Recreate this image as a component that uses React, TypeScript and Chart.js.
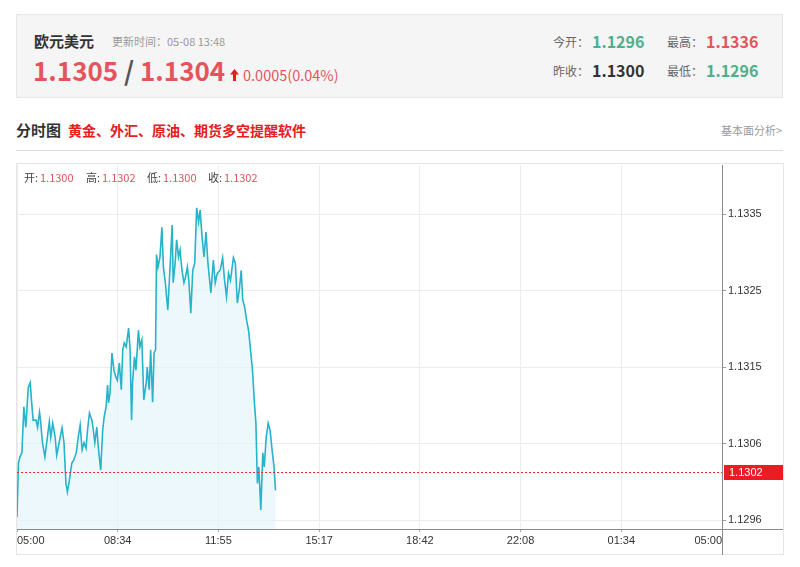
import React, { useEffect, useRef } from 'react';
import { Chart, registerables } from 'chart.js';

Chart.register(...registerables);

// minutes after 05:00
const timeMinutes = [
  0, 3, 6, 10, 14, 18, 23, 27, 30, 33,
  39, 42, 46, 48, 52, 57, 62, 66, 69, 73,
  78, 81, 86, 92, 96, 100, 103, 107, 112, 116,
  121, 125, 129, 133, 137, 141, 144, 148, 153, 156,
  159, 163, 166, 171, 175, 178, 182, 185, 187, 190,
  194, 198, 202, 205, 209, 213, 216, 219, 223, 228,
  231, 234, 236, 240, 243, 248, 251, 255, 259, 264,
  266, 270, 273, 277, 280, 283, 285, 288, 292, 296,
  299, 303, 308, 313, 317, 319, 323, 326, 330, 333,
  337, 341, 344, 348, 351, 355, 359, 363, 367, 371,
  374, 378, 382, 386, 390, 396, 401, 405, 409, 415,
  420, 424, 428, 432, 436, 442, 446, 450, 454, 458,
  461, 465, 469, 473, 477, 481, 485, 488, 491, 494,
  498, 502, 505, 509, 513, 517, 521, 525, 528,
];

const prices = [
  1.12962, 1.13031, 1.13039, 1.13044, 1.13103, 1.13077, 1.13128, 1.13134, 1.13108, 1.13086,
  1.13086, 1.13077, 1.13096, 1.13086, 1.13057, 1.13039, 1.13064, 1.13084, 1.13064, 1.13082,
  1.13064, 1.13041, 1.13057, 1.13076, 1.13057, 1.13005, 1.12994, 1.13009, 1.13031, 1.13035,
  1.13044, 1.13064, 1.1308, 1.13048, 1.13057, 1.1305, 1.13073, 1.13095, 1.13086, 1.13073,
  1.13057, 1.13077, 1.13052, 1.13022, 1.13073, 1.1309, 1.13103, 1.13131, 1.13108, 1.13121,
  1.13172, 1.1315, 1.13141, 1.13137, 1.13159, 1.13125, 1.13176, 1.13185, 1.1318, 1.13204,
  1.13176, 1.13086, 1.13134, 1.13167, 1.1315, 1.13201, 1.1318, 1.13189, 1.13112, 1.13134,
  1.13154, 1.13125, 1.13176, 1.13109, 1.13172, 1.13176, 1.13298, 1.13282, 1.13295, 1.13333,
  1.13282, 1.13262, 1.13227, 1.13287, 1.13336, 1.13262, 1.13287, 1.13317, 1.13295, 1.13304,
  1.13278, 1.13262, 1.13269, 1.13282, 1.13265, 1.13223, 1.13278, 1.13287, 1.13358, 1.1334,
  1.13355, 1.13321, 1.13295, 1.13327, 1.13287, 1.13249, 1.13291, 1.13262, 1.13274, 1.13278,
  1.13294, 1.13265, 1.13244, 1.13274, 1.13265, 1.13294, 1.13287, 1.13236, 1.13253, 1.13278,
  1.1324, 1.13231, 1.13214, 1.13201, 1.13176, 1.1315, 1.13108, 1.13082, 1.13005, 1.13026,
  1.12971, 1.13044, 1.13026, 1.13064, 1.13082, 1.13073, 1.13048, 1.13026, 1.12996,
];

const xTickLabels = ['05:00', '08:34', '11:55', '15:17', '18:42', '22:08', '01:34', '05:00'];
const yTickValues = [1.12958, 1.13056, 1.13154, 1.13252, 1.1335];
const yTickLabels = ['1.1296', '1.1306', '1.1315', '1.1325', '1.1335'];
const yMin = 1.129465;
const yMax = 1.134128;
const totalMinutes = 1440;
const refPrice = 1.1302;
const refLabel = '1.1302';

const legendItems = [
  { name: '开:', value: '1.1300', x: 24 },
  { name: '高:', value: '1.1302', x: 86 },
  { name: '低:', value: '1.1300', x: 147 },
  { name: '收:', value: '1.1302', x: 208 },
];

const CJK = '"Noto Sans CJK SC", "Noto Sans", sans-serif';

function T(props: { x: number; cy: number; size: number; color: string; weight?: number | string; children: React.ReactNode; family?: string }) {
  const { x, cy, size, color, weight, children, family } = props;
  return (
    <span
      style={{
        position: 'absolute',
        left: x,
        top: cy - size * 0.57,
        fontSize: size,
        lineHeight: 1,
        color,
        fontWeight: weight ?? 'normal',
        whiteSpace: 'nowrap',
        fontFamily: family ?? CJK,
      }}
    >
      {children}
    </span>
  );
}

const framePlugin = {
  id: 'frame',
  afterDraw(chart: any) {
    const { ctx, chartArea, width, height } = chart;
    const { left, right, top, bottom } = chartArea;
    ctx.save();
    const y = Math.round(chart.scales.y.getPixelForValue(refPrice)) + 0.5;
    ctx.strokeStyle = '#f02a2a';
    ctx.lineWidth = 1;
    ctx.setLineDash([2, 2]);
    ctx.beginPath();
    ctx.moveTo(left, y);
    ctx.lineTo(right, y);
    ctx.stroke();
    ctx.setLineDash([]);
    ctx.strokeStyle = '#8a8a8a';
    ctx.beginPath();
    ctx.moveTo(left, Math.round(bottom) + 0.5);
    ctx.lineTo(width - 1, Math.round(bottom) + 0.5);
    ctx.moveTo(Math.round(right) + 0.5, top);
    ctx.lineTo(Math.round(right) + 0.5, height);
    ctx.stroke();
    ctx.fillStyle = '#ec1c24';
    ctx.fillRect(right + 2, y - 7.5, width - right - 3, 15);
    ctx.fillStyle = '#ffffff';
    ctx.font = '11px "Liberation Sans", Arial, sans-serif';
    ctx.textBaseline = 'middle';
    ctx.textAlign = 'left';
    ctx.fillText(refLabel, right + 7, y + 0.5);
    ctx.restore();
  },
};

function PriceChart() {
  const ref = useRef<HTMLCanvasElement | null>(null);
  useEffect(() => {
    if (!ref.current) return;
    Chart.defaults.font.family = '"Liberation Sans", Arial, sans-serif';
    const chart = new Chart(ref.current, {
      type: 'line',
      data: {
        datasets: [
          {
            data: timeMinutes.map((t, i) => ({ x: t, y: prices[i] })),
            borderColor: '#27b3ca',
            borderWidth: 1.6,
            backgroundColor: 'rgba(226, 244, 250, 0.65)',
            fill: 'start',
            pointRadius: 0,
            tension: 0,
          },
        ],
      },
      options: {
        animation: false,
        responsive: false,
        maintainAspectRatio: false,
        layout: { padding: { left: 1, top: 2, right: 0, bottom: 0 } },
        plugins: { legend: { display: false }, tooltip: { enabled: false } },
        scales: {
          x: {
            type: 'linear',
            min: 0,
            max: totalMinutes,
            afterBuildTicks: (s: any) => {
              s.ticks = xTickLabels.map((_, i) => ({ value: (i * totalMinutes) / (xTickLabels.length - 1) }));
            },
            afterFit: (s: any) => {
              s.height = 26;
              s.paddingLeft = 0;
              s.paddingRight = 0;
            },
            ticks: {
              callback: (_v: any, i: number) => xTickLabels[i],
              align: 'inner',
              maxRotation: 0,
              autoSkip: false,
              color: '#333',
              font: { size: 11 },
              padding: 2,
            },
            grid: { color: '#ececec', tickLength: 3, tickColor: '#aaa' },
            border: { display: false },
          },
          y: {
            position: 'right',
            min: yMin,
            max: yMax,
            afterBuildTicks: (s: any) => {
              s.ticks = yTickValues.map((v) => ({ value: v }));
            },
            afterFit: (s: any) => {
              s.width = 62;
              s.paddingTop = 0;
              s.paddingBottom = 0;
            },
            ticks: {
              callback: (_v: any, i: number) => yTickLabels[i],
              color: '#333',
              font: { size: 11 },
              padding: 2,
            },
            grid: { color: '#ececec', tickLength: 4, tickColor: '#999' },
            border: { display: false },
          },
        },
      } as any,
      plugins: [framePlugin],
    });
    return () => chart.destroy();
  }, []);
  return (
    <canvas
      ref={ref}
      width={768}
      height={392}
      style={{ position: 'absolute', left: 16, top: 163, width: 768, height: 392 }}
    />
  );
}

export default function App() {
  const red = '#e4555b';
  const green = '#4fb08a';
  return (
    <div
      style={{
        position: 'fixed',
        left: 0,
        top: 0,
        width: 800,
        height: 567,
        background: '#fff',
        fontFamily: CJK,
        overflow: 'hidden',
      }}
    >
      {/* header box */}
      <div
        style={{
          position: 'absolute',
          left: 16,
          top: 14,
          width: 767,
          height: 84,
          background: '#f5f5f5',
          border: '1px solid #e6e6e6',
          boxSizing: 'border-box',
        }}
      />
      <T x={34} cy={42} size={15} color="#333" weight="bold">欧元美元</T>
      <T x={112} cy={42} size={11} color="#9a9a9a">更新时间：05-08 13:48</T>
      <T x={33} cy={72} size={26} color={red} weight="bold">1.1305</T>
      <T x={124} cy={72} size={26} color="#555" weight="bold">/</T>
      <T x={140} cy={72} size={26} color={red} weight="bold">1.1304</T>
      <svg style={{ position: 'absolute', left: 230, top: 69 }} width={9} height={12}>
        <polygon points="4.5,0 9,5.5 6,5.5 6,12 3,12 3,5.5 0,5.5" fill="#e02020" />
      </svg>
      <T x={243} cy={76} size={14.5} color={red}>0.0005(0.04%)</T>

      <T x={553} cy={43} size={12} color="#666">今开：</T>
      <T x={592} cy={42} size={16} color={green} weight="bold">1.1296</T>
      <T x={667} cy={43} size={12} color="#666">最高：</T>
      <T x={706} cy={42} size={16} color={red} weight="bold">1.1336</T>
      <T x={553} cy={72} size={12} color="#666">昨收：</T>
      <T x={592} cy={71} size={16} color="#333" weight="bold">1.1300</T>
      <T x={667} cy={72} size={12} color="#666">最低：</T>
      <T x={706} cy={71} size={16} color={green} weight="bold">1.1296</T>

      {/* section title */}
      <T x={16} cy={131} size={15} color="#333" weight="bold">分时图</T>
      <T x={68} cy={131} size={14} color="#e3201e" weight="bold">黄金、外汇、原油、期货多空提醒软件</T>
      <T x={721} cy={131} size={11} color="#9a9a9a">基本面分析&gt;</T>
      <div style={{ position: 'absolute', left: 16, top: 150, width: 767, height: 1, background: '#dedede' }} />

      {/* chart box */}
      <div
        style={{
          position: 'absolute',
          left: 16,
          top: 163,
          width: 768,
          height: 392,
          border: '1px solid #e6e6e6',
          boxSizing: 'border-box',
        }}
      />
      <PriceChart />
      {legendItems.map((it) => (
        <React.Fragment key={it.x}>
          <T x={it.x} cy={178} size={11} color="#444">{it.name}</T>
          <T x={it.x + 16} cy={178} size={11} color="#e0555a">{it.value}</T>
        </React.Fragment>
      ))}
    </div>
  );
}
